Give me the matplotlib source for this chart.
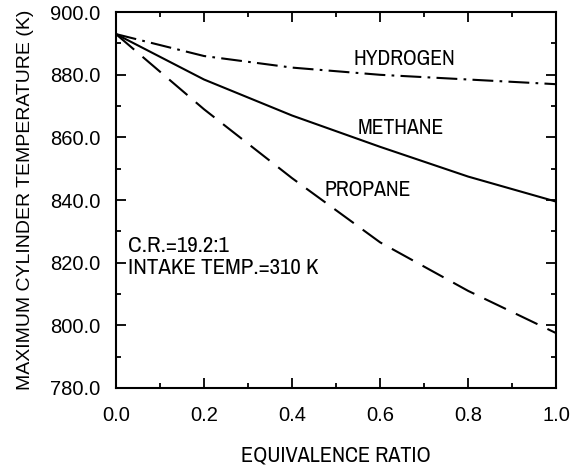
import numpy as np
import matplotlib
matplotlib.use("Agg")
import matplotlib.pyplot as plt
from matplotlib.ticker import MultipleLocator, FormatStrFormatter

# equivalence ratio and peak cylinder temperature (K)
phi = [0.0, 0.2, 0.4, 0.6, 0.8, 1.0]
hydrogen = [893.0, 886.0, 882.3, 880.0, 878.5, 877.0]
methane = [893.0, 878.5, 867.0, 857.0, 847.5, 839.5]
propane = [893.0, 869.0, 847.0, 826.5, 811.0, 797.5]

xticks = [0.0, 0.2, 0.4, 0.6, 0.8, 1.0]
yticks = [780, 800, 820, 840, 860, 880, 900]

plt.rcParams['font.family'] = ['Liberation Sans', 'DejaVu Sans']
narrow = ['Archivo Narrow', 'Liberation Sans', 'DejaVu Sans']

fig = plt.figure(figsize=(5.74, 4.68), dpi=100)
ax = fig.add_axes([0.202, 0.171, 0.767, 0.803])

lw = 1.5
ax.plot(phi, hydrogen, color='black', lw=lw, dashes=(10, 3, 1.3, 3))
ax.plot(phi, methane, color='black', lw=lw)
ax.plot(phi, propane, color='black', lw=lw, dashes=(11.5, 5.3))

ax.text(0.54, 885, 'HYDROGEN', family=narrow, fontsize=15.5, va='center')
ax.text(0.55, 863, 'METHANE', family=narrow, fontsize=15.5, va='center')
ax.text(0.474, 843.2, 'PROPANE', family=narrow, fontsize=15.5, va='center')
ax.text(0.027, 825.2, 'C.R.=19.2:1', family=narrow, fontsize=16.5, va='center')
ax.text(0.027, 818.3, 'INTAKE TEMP.=310 K', family=narrow, fontsize=16.5, va='center')

ax.set_xlim(0, 1.0)
ax.set_ylim(780, 900)
ax.set_xticks(xticks)
ax.set_yticks(yticks)
ax.xaxis.set_minor_locator(MultipleLocator(0.1))
ax.yaxis.set_minor_locator(MultipleLocator(10))
ax.xaxis.set_major_formatter(FormatStrFormatter('%.1f'))
ax.yaxis.set_major_formatter(FormatStrFormatter('%.1f'))

ax.tick_params(which='both', direction='in', top=True, right=True, width=1.3)
ax.tick_params(which='major', length=7.5, labelsize=14.5)
ax.tick_params(axis='y', which='major', pad=11)
ax.tick_params(axis='x', which='major', pad=13)
ax.tick_params(which='minor', length=3.8)
for s in ax.spines.values():
    s.set_linewidth(1.5)

ax.set_xlabel('EQUIVALENCE RATIO', family=narrow, fontsize=16, labelpad=15)
ax.set_ylabel('MAXIMUM CYLINDER TEMPERATURE (K)', fontsize=14, labelpad=12)

fig.savefig('out.png', dpi=100)
